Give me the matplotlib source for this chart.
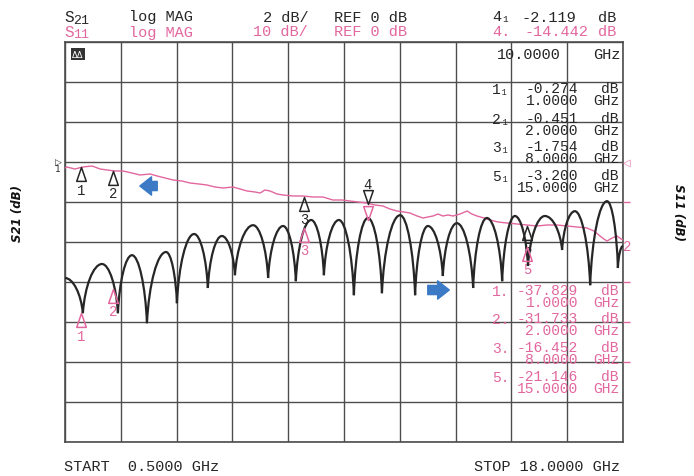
import numpy as np
import matplotlib.pyplot as plt
from matplotlib.path import Path
from matplotlib.patches import PathPatch, FancyArrowPatch

# frequency span (GHz)
start_ghz = 0.5
stop_ghz = 18.0

# S21 trace (slowly falling, drawn pink on the scan)
s21_freq = [0.50, 0.56, 0.81, 1.06, 1.35, 1.60, 1.82, 2.07, 2.32, 2.60, 2.85, 3.17, 3.39, 3.64, 3.89,
            4.17, 4.42, 4.70, 4.95, 5.20, 5.46, 5.77, 5.99, 6.21, 6.46, 6.62, 6.77, 6.93, 7.15, 7.34,
            7.65, 7.96, 8.28, 8.59, 8.90, 9.19, 9.44, 9.69, 9.97, 10.22, 10.47, 10.69, 10.91, 11.13, 11.32,
            11.54, 11.73, 11.88, 12.04, 12.20, 12.35, 12.51, 12.67, 12.89, 13.11, 13.26, 13.42, 13.64, 13.83,
            14.08, 14.36, 14.68, 14.99, 15.30, 15.62, 15.93, 16.24, 16.56, 16.87, 17.09, 17.28, 17.40, 17.50,
            17.66, 17.81, 17.94, 18.00]
s21_db = [-0.30, -0.25, -0.35, -0.25, -0.20, -0.35, -0.40, -0.45, -0.45, -0.55, -0.65, -0.60, -0.70, -0.80, -0.90,
          -0.95, -1.05, -1.10, -1.15, -1.25, -1.30, -1.25, -1.35, -1.45, -1.50, -1.55, -1.40, -1.45, -1.60, -1.65,
          -1.70, -1.70, -1.75, -1.75, -1.90, -1.90, -1.95, -2.00, -2.05, -2.15, -2.20, -2.35, -2.45, -2.50, -2.55,
          -2.70, -2.80, -2.75, -2.70, -2.60, -2.70, -2.65, -2.70, -2.60, -2.45, -2.60, -2.70, -2.80, -2.90,
          -3.00, -3.05, -3.10, -3.15, -3.20, -3.15, -3.15, -3.20, -3.25, -3.30, -3.45, -3.70, -3.85, -3.95,
          -3.80, -3.70, -3.85, -3.90]

# S11 trace: nulls and peaks of the ripple, alternating
s11_freq = [0.50, 1.06, 1.66, 2.16, 2.60, 3.07, 3.67, 4.01, 4.55, 4.98, 5.42, 5.83, 6.40, 6.87, 7.34,
            7.74, 8.22, 8.62, 9.09, 9.56, 10.00, 10.44, 11.01, 11.48, 11.88, 12.35, 12.79, 13.30, 13.73,
            14.21, 14.61, 15.02, 15.55, 16.09, 16.49, 16.97, 17.50, 17.84, 18.00]
s11_db = [-29.0, -37.8, -25.5, -37.8, -23.3, -40.3, -22.5, -35.3, -18.0, -31.5, -18.5, -28.3, -15.8, -29.0, -16.0,
          -29.8, -14.5, -28.3, -14.5, -33.3, -14.0, -32.8, -13.3, -33.3, -16.0, -28.5, -15.3, -31.5, -14.0,
          -29.8, -13.5, -26.0, -13.5, -22.0, -12.3, -30.8, -9.8, -26.5, -21.0]

# markers
marker_ids = ['1', '2', '3', '4', '5']
marker_freq = [1.0, 2.0, 8.0, 10.0, 15.0]
s21_marker_db = [-0.274, -0.451, -1.754, -2.119, -3.200]
s11_marker_db = [-37.829, -31.733, -16.452, -14.442, -21.146]
active_marker = 3  # index of marker 4

W, H = 694, 477
PINK = '#e2679f'
INK = '#262626'
GRID = '#4d4d4d'
BLUE = '#3c7ac6'
MONO = ['Liberation Mono', 'DejaVu Sans Mono']


def ftext(fig, x, y, s, **kw):
    kw.setdefault('va', 'center')
    kw.setdefault('ha', 'left')
    kw.setdefault('family', MONO)
    kw.setdefault('fontsize', 11)
    fig.text(x / W, 1 - y / H, s, **kw)


def ripple_path(freq, db):
    verts = [(freq[0], db[0])]
    codes = [Path.MOVETO]
    for i in range(len(freq) - 1):
        x0, y0 = freq[i], db[i]
        x1, y1 = freq[i + 1], db[i + 1]
        dx = x1 - x0
        if y0 > y1:
            c1 = (x0 + 0.45 * dx, y0)
            c2 = (x1 - 0.10 * dx, y1 + 0.55 * (y0 - y1))
        else:
            c1 = (x0 + 0.10 * dx, y0 + 0.55 * (y1 - y0))
            c2 = (x1 - 0.45 * dx, y1)
        verts += [c1, c2, (x1, y1)]
        codes += [Path.CURVE4] * 3
    return Path(verts, codes)


tri_up = Path([(0, 0), (-0.45, -1.3), (0.45, -1.3), (0, 0)], closed=True)
tri_down = Path([(0, 0), (-0.45, 1.3), (0.45, 1.3), (0, 0)], closed=True)


def draw_marker(ax, f, v, label, color, down=False):
    ax.plot([f], [v], marker=tri_down if down else tri_up, ms=20, mfc='none',
            mec=color, mew=1.1, clip_on=False, zorder=6)
    if label:
        ax.annotate(label, (f, v), xytext=(0, 15 if down else -16), textcoords='offset points',
                    ha='center', va='center', color=color, fontsize=10, family=MONO)


def readout(fig, y, ident, value, freq, color):
    # two stacked lines of the analyzer marker readout
    ftext(fig, 492, y, ident, color=color, fontsize=10.5)
    ftext(fig, 578, y + 5, f'{value:.3f}\n{freq:.4f}', color=color, ha='right',
          multialignment='right', fontsize=10.5, linespacing=0.78)
    ftext(fig, 619, y + 5, 'dB\nGHz', color=color, ha='right', multialignment='right',
          fontsize=10.5, linespacing=0.78)


def plot_chart():
    fig = plt.figure(figsize=(W / 100, H / 100), dpi=100)
    ax = fig.add_axes([65 / W, 1 - 443 / H, 558 / W, 400 / H])
    ax.set_xlim(start_ghz, stop_ghz)
    ax.set_ylim(-14, 6)
    ax.set_xticks(np.linspace(start_ghz, stop_ghz, 11))
    ax.set_yticks(np.arange(-14, 7, 2))
    ax.tick_params(length=0, labelleft=False, labelbottom=False)
    ax.grid(True, color=GRID, lw=1.0)
    for sp in ax.spines.values():
        sp.set_color(GRID)
        sp.set_linewidth(1.2)

    ax2 = ax.twinx()
    ax2.set_ylim(-70, 30)
    ax2.set_yticks([-10, -30, -40, -50])
    ax2.tick_params(axis='y', direction='out', length=5, color=PINK, width=1, labelright=False)
    for sp in ax2.spines.values():
        sp.set_visible(False)

    ax.plot(s21_freq, s21_db, color=PINK, lw=1.0, zorder=4)
    ax2.add_patch(PathPatch(ripple_path(s11_freq, s11_db), fc='none', ec=INK, lw=1.6, zorder=5))

    for i, mid in enumerate(marker_ids):
        down = i == active_marker
        draw_marker(ax, marker_freq[i], s21_marker_db[i], mid, INK, down)
        draw_marker(ax2, marker_freq[i], s11_marker_db[i], '' if down else mid, PINK, down)

    # reference position indicators
    ax.annotate('\u25b7\n1', (start_ghz, 0), xytext=(-5, -2), textcoords='offset points',
                ha='center', va='center', fontsize=6.5, color=INK, linespacing=0.8)
    ax2.annotate('\u25c1', (stop_ghz, 0), xytext=(3, 0), textcoords='offset points',
                 ha='center', va='center', fontsize=7, color=PINK)
    ax2.annotate('2', (stop_ghz, -21), xytext=(3, 0), textcoords='offset points',
                 ha='center', va='center', fontsize=10, color=PINK, family=MONO)

    # blue direction arrows
    ax.add_patch(FancyArrowPatch((3.48, -1.2), (2.76, -1.2), mutation_scale=12, color=BLUE,
                                 arrowstyle='simple,head_length=0.7,head_width=1.1,tail_width=0.55', zorder=7))
    ax.add_patch(FancyArrowPatch((11.79, -6.4), (12.64, -6.4), mutation_scale=12, color=BLUE,
                                 arrowstyle='simple,head_length=0.7,head_width=1.1,tail_width=0.55', zorder=7))

    # header lines
    act = active_marker
    ftext(fig, 64, 17, 'S', color=INK, fontsize=11.5)
    ftext(fig, 73, 20.5, '21', color=INK, fontsize=9.5)
    ftext(fig, 129, 17.5, 'log MAG', color=INK)
    ftext(fig, 263, 17.5, '2 dB/', color=INK)
    ftext(fig, 334, 17.5, 'REF 0 dB', color=INK)
    ftext(fig, 492, 17.5, marker_ids[act] + '\u2081', color=INK)
    ftext(fig, 576, 17.5, f'{s21_marker_db[act]:.3f}', color=INK, ha='right')
    ftext(fig, 598, 17.5, 'dB', color=INK)

    ftext(fig, 64, 32.5, 'S', color=PINK, fontsize=11.5)
    ftext(fig, 73, 35, '11', color=PINK, fontsize=9.5)
    ftext(fig, 129, 32.5, 'log MAG', color=PINK)
    ftext(fig, 253, 32.5, '10 dB/', color=PINK)
    ftext(fig, 334, 32.5, 'REF 0 dB', color=PINK)
    ftext(fig, 492, 32.5, marker_ids[act] + '.', color=PINK)
    ftext(fig, 588, 32.5, f'{s11_marker_db[act]:.3f}', color=PINK, ha='right')
    ftext(fig, 598, 32.5, 'dB', color=PINK)

    # readouts inside the grid
    ftext(fig, 78, 55, '\u0394\u0394', color='white', fontsize=6, family='DejaVu Sans', ha='center',
          bbox=dict(boxstyle='square,pad=0.15', fc='#333333', ec='none'))
    ftext(fig, 561, 55, f'{marker_freq[act]:.4f}', color=INK, ha='right')
    ftext(fig, 620, 55, 'GHz', color=INK, ha='right')

    rows_s21 = [90, 120, 148, 177]
    rows_s11 = [292, 320, 349, 378]
    listed = [i for i in range(len(marker_ids)) if i != act]
    for r, i in enumerate(listed):
        readout(fig, rows_s21[r], marker_ids[i] + '\u2081', s21_marker_db[i], marker_freq[i], INK)
        readout(fig, rows_s11[r], marker_ids[i] + '.', s11_marker_db[i], marker_freq[i], PINK)

    ftext(fig, 64, 467, f'START  {start_ghz:.4f} GHz', color=INK)
    ftext(fig, 620, 467, f'STOP {stop_ghz:.4f} GHz', color=INK, ha='right')

    ftext(fig, 17, 213, 'S21 (dB)', family='DejaVu Sans', fontsize=8.5, fontweight='bold',
          style='italic', rotation=90, ha='center', color='#111111')
    ftext(fig, 678, 213, 'S11 (dB)', family='DejaVu Sans', fontsize=8.5, fontweight='bold',
          style='italic', rotation=270, ha='center', color='#111111')

    fig.savefig('out.png', dpi=100)


if __name__ == '__main__':
    plot_chart()
